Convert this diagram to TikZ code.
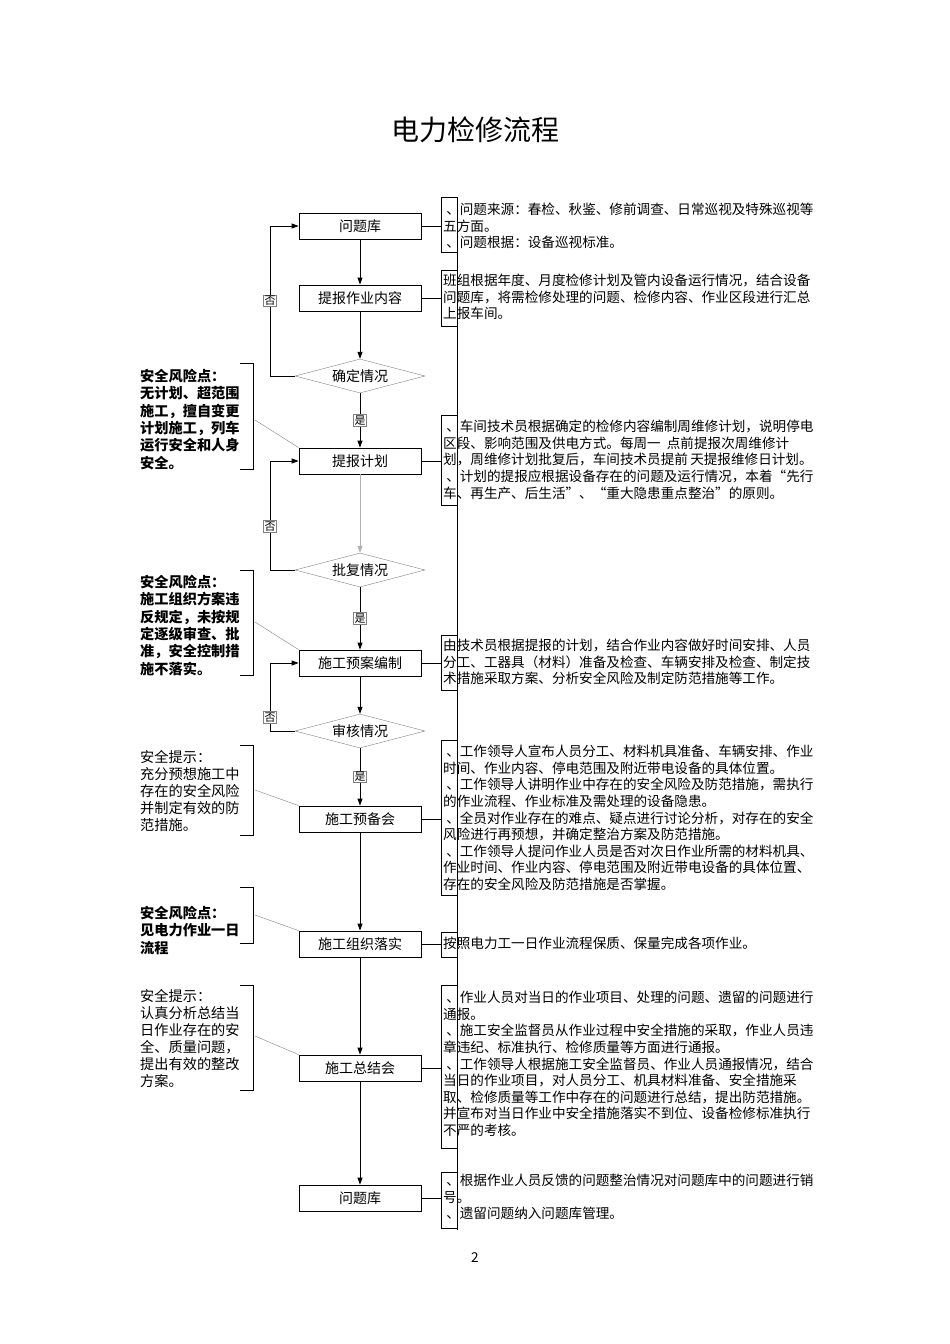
\documentclass[tikz,border=0pt]{standalone}
\usepackage{fontspec}
\setmainfont{Liberation Serif}
\newfontfamily\cjk{Noto Sans CJK SC}
\usetikzlibrary{shapes.geometric, arrows.meta, positioning}

\begin{document}
\begin{tikzpicture}[x=1pt, y=-1pt,
  every node/.style={font=\cjk\fontsize{13.6}{16.6}\selectfont},
  stepbox/.style={rectangle, draw, thick, minimum width=122pt, minimum height=26pt, inner sep=0pt, font=\cjk\fontsize{14}{15}\selectfont},
  decision/.style={diamond, draw=gray, text=black, aspect=3.8, minimum width=130pt, minimum height=34pt, inner sep=0pt, font=\cjk\fontsize{14}{15}\selectfont},
  line/.style={-{Triangle[length=7pt,width=5pt]}, thick},
  lbl/.style={draw=gray, fill=white, text=black, inner sep=1pt, font=\cjk\fontsize{11}{11}\selectfont},
  desc/.style={anchor=north west, align=left, inner sep=0pt},
  warn/.style={anchor=north west, align=left, inner sep=0pt, font=\cjk\bfseries\fontsize{14.2}{17.3}\selectfont},
  brk/.style={draw}
]
\useasboundingbox (0,0) rectangle (950,1344);

\node[font=\cjk\fontsize{28}{30}\selectfont] (title) at (475,130) {电力检修流程};

% main column
\node[stepbox] (q1) at (360,226) {问题库};
\node[stepbox] (content) at (360,298) {提报作业内容};
\node[decision] (confirm) at (360,376) {确定情况};
\node[stepbox] (plan) at (360,461) {提报计划};
\node[decision] (approve) at (360,570) {批复情况};
\node[stepbox] (draft) at (360,663) {施工预案编制};
\node[decision] (review) at (360,731) {审核情况};
\node[stepbox] (premeet) at (360,819) {施工预备会};
\node[stepbox] (execute) at (360,944) {施工组织落实};
\node[stepbox] (summary) at (360,1068) {施工总结会};
\node[stepbox] (q2) at (360,1198) {问题库};

\node (page) at (475,1258) {2};

\draw[line] (q1) -- (content);
\draw[line] (content) -- (confirm);
\draw[line] (confirm) -- node[lbl]{是} (plan);
\draw[line, gray!60] (plan) -- (approve);
\draw[line] (approve) -- node[lbl]{是} (draft);
\draw[line] (draft) -- (review);
\draw[line] (review) -- node[lbl]{是} (premeet);
\draw[line] (premeet) -- (execute);
\draw[line] (execute) -- (summary);
\draw[line] (summary) -- (q2);

% loops back
\draw[line] (confirm.west) -| node[lbl, pos=0.75]{否} (270,226) -- (q1.west);
\draw[line] (approve.west) -| node[lbl, pos=0.7]{否} (270,461) -- (plan.west);
\draw[line] (review.west) -| node[lbl, pos=0.6]{否} (270,663) -- (draft.west);

% right column
\draw (457,197) -- (457,1230);
\foreach \nm/\ya/\yb in {q1/197/252, content/270/326, plan/415/505, draft/635/690,
  premeet/740/895, execute/932/957, summary/985/1148, q2/1172/1228} {
  \draw (457,\ya) -- (441,\ya) -- (441,\yb) -- (457,\yb);
  \coordinate (r-\nm) at (441,0);
  \draw (\nm.east) -- (\nm.east -| r-\nm);
}

\node[desc] (t1) at (443,203) {\ 、问题来源：春检、秋鉴、修前调查、日常巡视及特殊巡视等\\五方面。\\\ 、问题根据：设备巡视标准。};
\node[desc] (t2) at (443,274) {班组根据年度、月度检修计划及管内设备运行情况，结合设备\\问题库，将需检修处理的问题、检修内容、作业区段进行汇总\\上报车间。};
\node[desc] (t3) at (443,420) {\ 、车间技术员根据确定的检修内容编制周维修计划，说明停电\\区段、影响范围及供电方式。每周一\ \ 点前提报次周维修计\\划，周维修计划批复后，车间技术员提前\,天提报维修日计划。\\\ 、计划的提报应根据设备存在的问题及运行情况，本着“先行\\车、再生产、后生活”、“重大隐患重点整治”的原则。};
\node[desc] (t4) at (443,639) {由技术员根据提报的计划，结合作业内容做好时间安排、人员\\分工、工器具（材料）准备及检查、车辆安排及检查、制定技\\术措施采取方案、分析安全风险及制定防范措施等工作。};
\node[desc] (t5) at (443,745) {\ 、工作领导人宣布人员分工、材料机具准备、车辆安排、作业\\时间、作业内容、停电范围及附近带电设备的具体位置。\\\ 、工作领导人讲明作业中存在的安全风险及防范措施，需执行\\的作业流程、作业标准及需处理的设备隐患。\\\ 、全员对作业存在的难点、疑点进行讨论分析，对存在的安全\\风险进行再预想，并确定整治方案及防范措施。\\\ 、工作领导人提问作业人员是否对次日作业所需的材料机具、\\作业时间、作业内容、停电范围及附近带电设备的具体位置、\\存在的安全风险及防范措施是否掌握。};
\node[desc] (t6) at (443,937) {按照电力工一日作业流程保质、保量完成各项作业。};
\node[desc] (t7) at (443,991) {\ 、作业人员对当日的作业项目、处理的问题、遗留的问题进行\\通报。\\\ 、施工安全监督员从作业过程中安全措施的采取，作业人员违\\章违纪、标准执行、检修质量等方面进行通报。\\\ 、工作领导人根据施工安全监督员、作业人员通报情况，结合\\当日的作业项目，对人员分工、机具材料准备、安全措施采\\取、检修质量等工作中存在的问题进行总结，提出防范措施。\\并宣布对当日作业中安全措施落实不到位、设备检修标准执行\\不严的考核。};
\node[desc] (t8) at (443,1174) {\ 、根据作业人员反馈的问题整治情况对问题库中的问题进行销\\号。\\\ 、遗留问题纳入问题库管理。};

% left notes
\node[warn] (n1) at (140,369) {安全风险点：\\无计划、超范围\\施工，擅自变更\\计划施工，列车\\运行安全和人身\\安全。};
\node[warn] (n2) at (140,575) {安全风险点：\\施工组织方案违\\反规定，未按规\\定逐级审查、批\\准，安全控制措\\施不落实。};
\node[desc, font=\cjk\fontsize{14.2}{17}\selectfont] (n3) at (140,750) {安全提示：\\充分预想施工中\\存在的安全风险\\并制定有效的防\\范措施。};
\node[warn] (n4) at (140,906) {安全风险点：\\见电力作业一日\\流程};
\node[desc, font=\cjk\fontsize{14.2}{17}\selectfont] (n5) at (140,989) {安全提示：\\认真分析总结当\\日作业存在的安\\全、质量问题，\\提出有效的整改\\方案。};

\foreach \ya/\yb in {363/469, 570/675, 745/835, 887/943, 985/1090}
  \draw (240,\ya) -- (253,\ya) -- (253,\yb) -- (240,\yb);
\draw[gray] (255,420) -- (plan.north west);
\draw[gray] (255,622) -- (draft.north west);
\draw[gray] (255,790) -- (premeet.north west);
\draw[gray] (255,915) -- (execute.north west);
\draw[gray] (255,1036) -- (summary.north west);
\end{tikzpicture}
\end{document}
